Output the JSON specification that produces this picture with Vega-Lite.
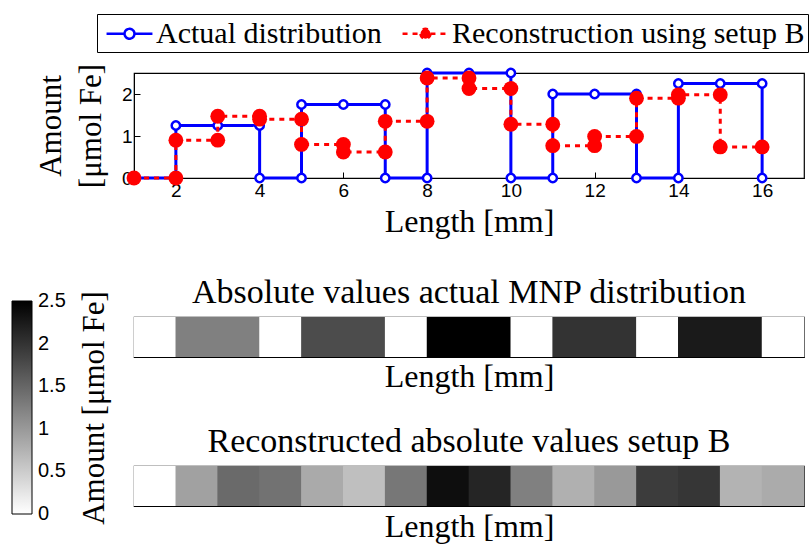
{
  "$schema": "https://vega.github.io/schema/vega-lite/v6.json",
  "background": "white",
  "padding": {"left": 12, "top": 13, "right": 4, "bottom": 4},
  "autosize": {"type": "pad"},
  "datasets": {
    "actual": [
      {"i": 1, "x": 1, "y": 0, "s": "Actual distribution"},
      {"i": 2, "x": 2, "y": 0, "s": "Actual distribution"},
      {"i": 3, "x": 2, "y": 1.25, "s": "Actual distribution"},
      {"i": 4, "x": 3, "y": 1.25, "s": "Actual distribution"},
      {"i": 5, "x": 4, "y": 1.25, "s": "Actual distribution"},
      {"i": 6, "x": 4, "y": 0, "s": "Actual distribution"},
      {"i": 7, "x": 5, "y": 0, "s": "Actual distribution"},
      {"i": 8, "x": 5, "y": 1.75, "s": "Actual distribution"},
      {"i": 9, "x": 6, "y": 1.75, "s": "Actual distribution"},
      {"i": 10, "x": 7, "y": 1.75, "s": "Actual distribution"},
      {"i": 11, "x": 7, "y": 0, "s": "Actual distribution"},
      {"i": 12, "x": 8, "y": 0, "s": "Actual distribution"},
      {"i": 13, "x": 8, "y": 2.5, "s": "Actual distribution"},
      {"i": 14, "x": 9, "y": 2.5, "s": "Actual distribution"},
      {"i": 15, "x": 10, "y": 2.5, "s": "Actual distribution"},
      {"i": 16, "x": 10, "y": 0, "s": "Actual distribution"},
      {"i": 17, "x": 11, "y": 0, "s": "Actual distribution"},
      {"i": 18, "x": 11, "y": 2, "s": "Actual distribution"},
      {"i": 19, "x": 12, "y": 2, "s": "Actual distribution"},
      {"i": 20, "x": 13, "y": 2, "s": "Actual distribution"},
      {"i": 21, "x": 13, "y": 0, "s": "Actual distribution"},
      {"i": 22, "x": 14, "y": 0, "s": "Actual distribution"},
      {"i": 23, "x": 14, "y": 2.25, "s": "Actual distribution"},
      {"i": 24, "x": 15, "y": 2.25, "s": "Actual distribution"},
      {"i": 25, "x": 16, "y": 2.25, "s": "Actual distribution"},
      {"i": 26, "x": 16, "y": 0, "s": "Actual distribution"}
    ],
    "recon": [
      {"i": 1, "x": 1, "y": 0, "s": "Reconstruction using setup B"},
      {"i": 2, "x": 2, "y": 0, "s": "Reconstruction using setup B"},
      {"i": 3, "x": 2, "y": 0.9, "s": "Reconstruction using setup B"},
      {"i": 4, "x": 3, "y": 0.9, "s": "Reconstruction using setup B"},
      {"i": 5, "x": 3, "y": 1.47, "s": "Reconstruction using setup B"},
      {"i": 6, "x": 4, "y": 1.47, "s": "Reconstruction using setup B"},
      {"i": 7, "x": 4, "y": 1.4, "s": "Reconstruction using setup B"},
      {"i": 8, "x": 5, "y": 1.4, "s": "Reconstruction using setup B"},
      {"i": 9, "x": 5, "y": 0.8, "s": "Reconstruction using setup B"},
      {"i": 10, "x": 6, "y": 0.8, "s": "Reconstruction using setup B"},
      {"i": 11, "x": 6, "y": 0.62, "s": "Reconstruction using setup B"},
      {"i": 12, "x": 7, "y": 0.62, "s": "Reconstruction using setup B"},
      {"i": 13, "x": 7, "y": 1.35, "s": "Reconstruction using setup B"},
      {"i": 14, "x": 8, "y": 1.35, "s": "Reconstruction using setup B"},
      {"i": 15, "x": 8, "y": 2.38, "s": "Reconstruction using setup B"},
      {"i": 16, "x": 9, "y": 2.38, "s": "Reconstruction using setup B"},
      {"i": 17, "x": 9, "y": 2.13, "s": "Reconstruction using setup B"},
      {"i": 18, "x": 10, "y": 2.13, "s": "Reconstruction using setup B"},
      {"i": 19, "x": 10, "y": 1.28, "s": "Reconstruction using setup B"},
      {"i": 20, "x": 11, "y": 1.28, "s": "Reconstruction using setup B"},
      {"i": 21, "x": 11, "y": 0.77, "s": "Reconstruction using setup B"},
      {"i": 22, "x": 12, "y": 0.77, "s": "Reconstruction using setup B"},
      {"i": 23, "x": 12, "y": 0.99, "s": "Reconstruction using setup B"},
      {"i": 24, "x": 13, "y": 0.99, "s": "Reconstruction using setup B"},
      {"i": 25, "x": 13, "y": 1.9, "s": "Reconstruction using setup B"},
      {"i": 26, "x": 14, "y": 1.9, "s": "Reconstruction using setup B"},
      {"i": 27, "x": 14, "y": 1.98, "s": "Reconstruction using setup B"},
      {"i": 28, "x": 15, "y": 1.98, "s": "Reconstruction using setup B"},
      {"i": 29, "x": 15, "y": 0.74, "s": "Reconstruction using setup B"},
      {"i": 30, "x": 16, "y": 0.74, "s": "Reconstruction using setup B"}
    ],
    "heatActual": [
      {"cell": 1, "v": 0}, {"cell": 2, "v": 1.25}, {"cell": 3, "v": 1.25}, {"cell": 4, "v": 0},
      {"cell": 5, "v": 1.75}, {"cell": 6, "v": 1.75}, {"cell": 7, "v": 0}, {"cell": 8, "v": 2.5},
      {"cell": 9, "v": 2.5}, {"cell": 10, "v": 0}, {"cell": 11, "v": 2}, {"cell": 12, "v": 2},
      {"cell": 13, "v": 0}, {"cell": 14, "v": 2.25}, {"cell": 15, "v": 2.25}, {"cell": 16, "v": 0}
    ],
    "heatRecon": [
      {"cell": 1, "v": 0}, {"cell": 2, "v": 0.92}, {"cell": 3, "v": 1.46}, {"cell": 4, "v": 1.38},
      {"cell": 5, "v": 0.83}, {"cell": 6, "v": 0.63}, {"cell": 7, "v": 1.33}, {"cell": 8, "v": 2.36},
      {"cell": 9, "v": 2.14}, {"cell": 10, "v": 1.25}, {"cell": 11, "v": 0.77}, {"cell": 12, "v": 1.0},
      {"cell": 13, "v": 1.91}, {"cell": 14, "v": 1.97}, {"cell": 15, "v": 0.75}, {"cell": 16, "v": 0.82}
    ]
  },
  "config": {
    "view": {"stroke": "black", "strokeWidth": 1.2},
    "font": "Liberation Serif",
    "axis": {"grid": false, "domainColor": "black", "tickColor": "black", "labelColor": "black", "titleColor": "black", "titleFontWeight": "normal"},
    "title": {"font": "Liberation Serif", "fontSize": 34, "fontWeight": "normal", "color": "black"}
  },
  "resolve": {"scale": {"fill": "independent"}, "legend": {"fill": "independent"}},
  "spacing": 37,
  "vconcat": [
    {
      "width": 670,
      "height": 105,
      "encoding": {
        "x": {"field": "x", "type": "quantitative", "scale": {"domain": [1, 17], "nice": false, "zero": false},
          "axis": {"values": [2, 4, 6, 8, 10, 12, 14, 16], "labelFont": "Liberation Sans", "labelFontSize": 19, "labelFlush": false,
            "tickSize": -6, "labelPadding": 9, "title": "Length [mm]", "titleFont": "Liberation Serif", "titleFontSize": 32, "titlePadding": 6}},
        "y": {"field": "y", "type": "quantitative", "scale": {"domain": [0, 2.5], "nice": false},
          "axis": {"values": [0, 1, 2], "labelFont": "Liberation Sans", "labelFontSize": 19, "labelFlush": false,
            "tickSize": -6, "labelPadding": 8, "title": ["Amount", "[μmol Fe]"], "titleFont": "Liberation Serif", "titleFontSize": 31, "titleLineHeight": 40, "titlePadding": 14}}
      },
      "layer": [
        {
          "data": {"name": "actual"},
          "mark": {"type": "line", "strokeWidth": 3},
          "encoding": {
            "order": {"field": "i", "type": "quantitative"},
            "stroke": {"field": "s", "type": "nominal",
              "scale": {"domain": ["Actual distribution", "Reconstruction using setup B"], "range": ["#0000ff", "#ff0000"]},
              "legend": {"orient": "none", "legendX": -37, "legendY": -59, "direction": "horizontal", "title": null,
                "symbolType": "M-1.53,0L-0.33,0M0.33,0L1.53,0M0.33,0A0.33,0.33,0,1,1,-0.33,0A0.33,0.33,0,1,1,0.33,0Z",
                "symbolSize": 900, "symbolStrokeWidth": 2.5, "symbolOffset": 13, "labelFont": "Liberation Serif", "labelFontSize": 30, "labelColor": "black",
                "labelLimit": 600, "labelOffset": 10, "columnPadding": 14, "strokeColor": "black", "fillColor": "white", "padding": 3,
                "encoding": {"symbols": {
                  "fill": {"condition": {"test": "datum.value === 'Actual distribution'", "value": "#ffffff"}, "value": "#ff0000"},
                  "stroke": {"condition": {"test": "datum.value === 'Actual distribution'", "value": "#0000ff"}, "value": "#ff0000"},
                  "strokeWidth": {"value": 2.5},
                  "opacity": {"value": 1}}}}},
            "strokeDash": {"field": "s", "type": "nominal",
              "scale": {"domain": ["Actual distribution", "Reconstruction using setup B"], "range": [[1, 0], [5, 5]]},
              "legend": {"orient": "none", "legendX": -37, "legendY": -59, "direction": "horizontal", "title": null,
                "symbolType": "M-1.53,0L-0.33,0M0.33,0L1.53,0M0.33,0A0.33,0.33,0,1,1,-0.33,0A0.33,0.33,0,1,1,0.33,0Z",
                "symbolSize": 900, "symbolStrokeWidth": 2.5, "symbolOffset": 13, "labelFont": "Liberation Serif", "labelFontSize": 30, "labelColor": "black",
                "labelLimit": 600, "labelOffset": 10, "columnPadding": 14, "strokeColor": "black", "fillColor": "white", "padding": 3,
                "encoding": {"symbols": {
                  "fill": {"condition": {"test": "datum.value === 'Actual distribution'", "value": "#ffffff"}, "value": "#ff0000"},
                  "stroke": {"condition": {"test": "datum.value === 'Actual distribution'", "value": "#0000ff"}, "value": "#ff0000"},
                  "strokeWidth": {"value": 2.5},
                  "opacity": {"value": 1}}}}}
          }
        },
        {
          "data": {"name": "actual"},
          "mark": {"type": "point", "shape": "circle", "size": 70, "strokeWidth": 2.5, "filled": false, "opacity": 1, "fill": "#ffffff", "color": "#0000ff"}
        },
        {
          "data": {"name": "recon"},
          "mark": {"type": "line", "strokeWidth": 3},
          "encoding": {
            "order": {"field": "i", "type": "quantitative"},
            "stroke": {"field": "s", "type": "nominal"},
            "strokeDash": {"field": "s", "type": "nominal"}
          }
        },
        {
          "data": {"name": "recon"},
          "mark": {"type": "point", "shape": "circle", "size": 220, "filled": true, "opacity": 1, "color": "#ff0000"}
        }
      ]
    },
    {
      "bounds": "flush",
      "spacing": 109,
      "vconcat": [
        {
          "width": 670,
          "height": 40,
          "data": {"name": "heatActual"},
          "title": {"text": "Absolute values actual MNP distribution", "offset": 7},
          "mark": {"type": "rect", "width": 42.6},
          "encoding": {
            "x": {"field": "cell", "type": "ordinal", "scale": {"paddingInner": 0, "paddingOuter": 0},
              "axis": {"labels": false, "ticks": false, "domain": false, "title": "Length [mm]", "titleFont": "Liberation Serif", "titleFontSize": 32, "titlePadding": 4}},
            "fill": {"field": "v", "type": "quantitative",
              "scale": {"domain": [0, 2.5], "range": ["#ffffff", "#000000"], "interpolate": "rgb"},
              "legend": {"orient": "none", "legendX": -122, "legendY": -16, "direction": "vertical", "type": "gradient",
                "gradientLength": 213, "gradientThickness": 20, "gradientStrokeColor": "black", "gradientStrokeWidth": 1,
                "values": [0, 0.5, 1, 1.5, 2, 2.5], "format": "~g", "labelFont": "Liberation Sans", "labelFontSize": 20, "labelColor": "black", "labelOffset": 6,
                "labelBaseline": "middle",
                "title": "Amount [μmol Fe]", "titleOrient": "right", "titleFont": "Liberation Serif", "titleFontSize": 31, "titleFontWeight": "normal",
                "titleColor": "black", "titlePadding": 14, "titleLimit": 400, "padding": 0,
                "encoding": {
                  "title": {"angle": {"value": -90}, "baseline": {"value": "top"}},
                  "labels": {"baseline": {"value": "middle"}}}}}
          }
        },
        {
          "width": 670,
          "height": 40,
          "data": {"name": "heatRecon"},
          "title": {"text": "Reconstructed absolute values setup B", "offset": 7},
          "mark": {"type": "rect", "width": 42.6},
          "encoding": {
            "x": {"field": "cell", "type": "ordinal", "scale": {"paddingInner": 0, "paddingOuter": 0},
              "axis": {"labels": false, "ticks": false, "domain": false, "title": "Length [mm]", "titleFont": "Liberation Serif", "titleFontSize": 32, "titlePadding": 5}},
            "fill": {"field": "v", "type": "quantitative",
              "scale": {"domain": [0, 2.5], "range": ["#ffffff", "#000000"], "interpolate": "rgb"},
              "legend": null}
          }
        }
      ]
    }
  ]
}
